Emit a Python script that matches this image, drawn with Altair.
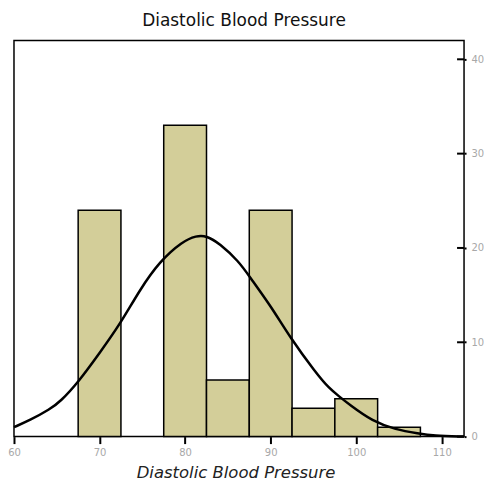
import altair as alt
import pandas as pd

# Histogram bins (lower edge), counts
bin_start = [67.5, 77.5, 82.5, 87.5, 92.5, 97.5, 102.5]
bin_width = 5.0
counts = [24, 33, 6, 24, 3, 4, 1]

# Normal curve
curve_x = [60.0, 61.9, 64.2, 65.4, 67.5, 70.0, 72.35, 74.7, 77.0, 79.7, 81.3, 82.5,
           84.0, 86.3, 87.5, 90.2, 92.2, 95.3, 96.8, 98.0, 99.2, 101.9, 104.6,
           107.3, 109.0, 112.6]
curve_y = [1.0, 1.75, 2.9, 3.7, 5.75, 8.86, 11.85, 15.56, 18.55, 20.7, 21.3, 21.3,
           20.5, 18.55, 17.0, 13.6, 10.6, 6.74, 5.15, 4.26, 3.39, 1.62, 0.74,
           0.32, 0.08, 0.0]

x_ticks = [60, 70, 80, 90, 100, 110]
y_ticks = [0, 10, 20, 30, 40]

bars = pd.DataFrame({
    "lo": bin_start,
    "hi": [b + bin_width for b in bin_start],
    "n": counts,
})
curve = pd.DataFrame({"x": curve_x, "y": curve_y})
yt = pd.DataFrame({"t": y_ticks})

xscale = alt.Scale(domain=[60, 112.6], nice=False, zero=False)
yscale = alt.Scale(domain=[0, 42], nice=False)

FONT = "DejaVu Sans"
LABEL = "#a8a8a8"

xaxis = alt.Axis(values=x_ticks, title="Diastolic Blood Pressure", titleFont=FONT,
                 titleFontSize=16.5, titleFontStyle="italic", titleFontWeight="normal",
                 titleColor="#222222", titlePadding=7, titleX=222, labelFont=FONT,
                 labelFontSize=10, labelColor=LABEL, labelPadding=4, tickSize=7,
                 tickWidth=2, tickColor="black", domain=False, grid=False,
                 labelFlush=False)
yaxis = alt.Axis(values=y_ticks, orient="right", title=None, labelFont=FONT,
                 labelFontSize=10, labelColor=LABEL, labelPadding=5, tickSize=2,
                 tickWidth=2, tickColor="black", domain=False, grid=False,
                 labelFlush=False)

bar_layer = alt.Chart(bars).mark_bar(
    color="#D3CE99", stroke="black", strokeWidth=1.5
).encode(
    x=alt.X("lo:Q", scale=xscale, axis=xaxis),
    x2="hi:Q",
    y=alt.Y("n:Q", scale=yscale, axis=yaxis),
    y2=alt.datum(0),
)

line_layer = alt.Chart(curve).mark_line(
    color="black", strokeWidth=2.5, interpolate="basis"
).encode(
    x=alt.X("x:Q", scale=xscale),
    y=alt.Y("y:Q", scale=yscale),
)

tick_layer = alt.Chart(yt).mark_rule(color="black", strokeWidth=2).encode(
    y=alt.Y("t:Q", scale=yscale),
    x=alt.value(444),
    x2=alt.value(451),
)

chart = alt.layer(bar_layer, line_layer, tick_layer).properties(
    width=451,
    height=397,
    title=alt.TitleParams("Diastolic Blood Pressure", font=FONT, fontSize=17,
                          fontWeight="normal", color="#111111", offset=10, dx=5),
    autosize=alt.AutoSizeParams(type="none"),
    padding={"left": 6, "top": 32, "right": 20, "bottom": 50},
).configure(
    background="white"
).configure_view(
    stroke="black", strokeWidth=1.5
)

chart.save("out.html", embed_options={"renderer": "svg", "actions": False})
